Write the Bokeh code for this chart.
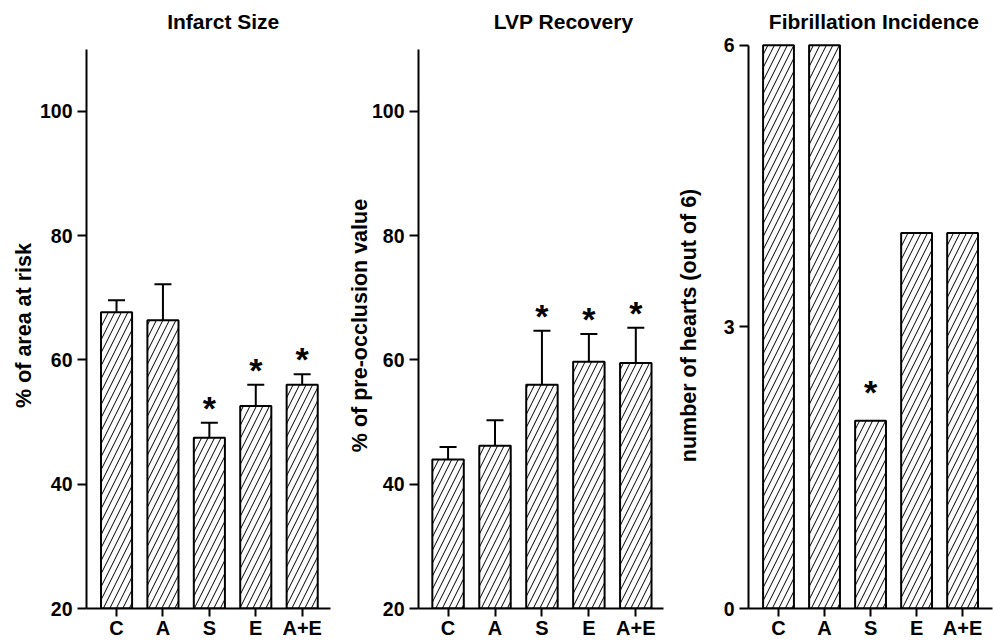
from bokeh.plotting import figure
from bokeh.models import Range1d, FixedTicker, ColumnDataSource, Whisker, TeeHead, Title
from bokeh.layouts import row
from bokeh.core.properties import value
from bokeh.embed import file_html
from bokeh.resources import INLINE

# ---------------- data ----------------
categories = ["C", "A", "S", "E", "A+E"]

infarct_mean = [67.7, 66.4, 47.5, 52.6, 56.0]
infarct_sem = [1.9, 5.8, 2.4, 3.4, 1.7]
infarct_sig = [False, False, True, True, True]

lvp_mean = [44.0, 46.2, 56.0, 59.7, 59.5]
lvp_sem = [2.0, 4.1, 8.7, 4.5, 5.7]
lvp_sig = [False, False, True, True, True]

fib_count = [6, 6, 2, 4, 4]
fib_sig = [False, False, True, False, False]

infarct_ticks = [20, 40, 60, 80, 100]
lvp_ticks = [20, 40, 60, 80, 100]
fib_ticks = [0, 3, 6]

FONT = "Liberation Sans"
H = 641
TOP = 42
BOTTOM = 33


def panel(title, ylabel, vals, sem, sig, y0, y1, ybound, yticks, width, bl, br,
          x0, x1, title_off, star_off, lab_standoff):
    xs = list(range(len(categories)))
    p = figure(width=width, height=H, x_range=Range1d(x0, x1),
               y_range=Range1d(y0, y1), output_backend="svg",
               toolbar_location=None, min_border_left=bl, min_border_right=br,
               min_border_top=TOP, min_border_bottom=BOTTOM)
    p.title = Title(text=title, align="left", offset=title_off,
                    vertical_align="top", standoff=16,
                    text_font=FONT, text_font_style="bold",
                    text_font_size="21px", text_color="black")
    p.outline_line_color = None
    p.xgrid.visible = False
    p.ygrid.visible = False
    p.background_fill_color = "white"
    p.border_fill_color = "white"

    src = ColumnDataSource(dict(x=xs, top=vals))
    p.vbar(x="x", top="top", bottom=y0, width=0.67, source=src,
           fill_color="white", line_color="black", line_width=2,
           hatch_pattern="/", hatch_color="black", hatch_weight=1,
           hatch_scale=13)

    if sem is not None:
        upper = [v + s for v, s in zip(vals, sem)]
        esrc = ColumnDataSource(dict(x=xs, lower=vals, upper=upper))
        w = Whisker(source=esrc, base="x", lower="lower", upper="upper",
                    dimension="height", line_width=2, line_color="black",
                    lower_head=None,
                    upper_head=TeeHead(size=17, line_width=2, line_color="black"),
                    level="overlay")
        p.add_layout(w)
    else:
        upper = list(vals)

    sx = [x for x, s in zip(xs, sig) if s]
    sy = [u for u, s in zip(upper, sig) if s]
    p.text(x=sx, y=sy, text=["*"] * len(sx), text_font=value(FONT),
           text_font_style="bold", text_font_size="34px", text_color="black",
           text_align="center", text_baseline="middle", y_offset=star_off)

    ax = p.xaxis[0]
    ax.ticker = FixedTicker(ticks=xs)
    ax.major_label_overrides = {i: c for i, c in enumerate(categories)}
    ax.minor_tick_line_color = None
    ax.major_tick_in = 0
    ax.major_tick_out = 8
    ax.major_tick_line_width = 2
    ax.axis_line_width = 2
    ax.major_label_standoff = 0
    ax.major_label_text_font = FONT
    ax.major_label_text_font_style = "bold"
    ax.major_label_text_font_size = "20px"
    ax.major_label_text_color = "black"

    ay = p.yaxis[0]
    ay.ticker = FixedTicker(ticks=yticks)
    ay.bounds = ybound
    ay.minor_tick_line_color = None
    ay.major_tick_in = 0
    ay.major_tick_out = 9
    ay.major_tick_line_width = 2
    ay.axis_line_width = 2
    ay.major_label_standoff = 5
    ay.major_label_text_font = FONT
    ay.major_label_text_font_style = "bold"
    ay.major_label_text_font_size = "19.5px"
    ay.major_label_text_color = "black"
    ay.axis_label = ylabel
    ay.axis_label_text_font = FONT
    ay.axis_label_text_font_style = "bold"
    ay.axis_label_text_font_size = "21.5px"
    ay.axis_label_text_color = "black"
    ay.axis_label_standoff = lab_standoff
    return p


p1 = panel("Infarct Size", "% of area at risk", infarct_mean, infarct_sem,
           infarct_sig, 20, 111.1, (20, 110), infarct_ticks, 339, 86, 9,
           -0.647, 4.61, 80.7, -15, 1)
p2 = panel("LVP Recovery", "% of pre-occlusion value", lvp_mean, lvp_sem,
           lvp_sig, 20, 111.1, (20, 110), lvp_ticks, 330, 79, 6,
           -0.63, 4.59, 75.3, -15, -3)
p3 = panel("Fibrillation Incidence", "number of hearts (out of 6)", fib_count,
           None, fib_sig, 0, 6.03, (0, 6), fib_ticks, 324, 79, 1,
           -0.652, 4.65, 20.3, -29, 20)

layout = row(p1, p2, p3)
open("out.html", "w").write(file_html(layout, INLINE))
